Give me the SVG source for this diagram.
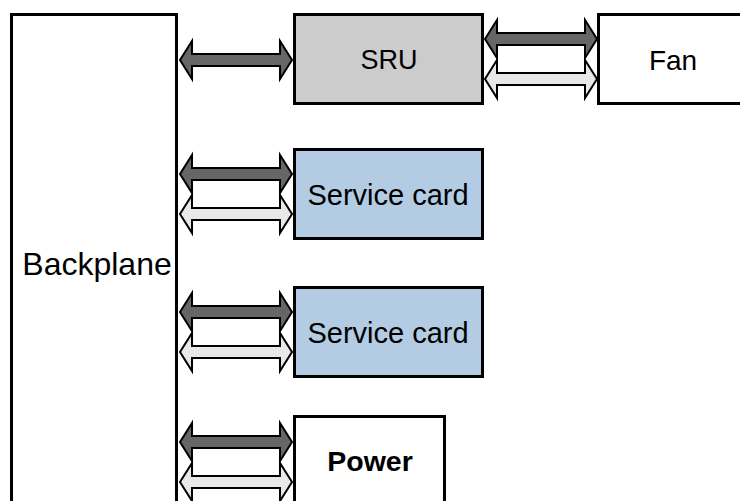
<svg xmlns="http://www.w3.org/2000/svg" xmlns:xlink="http://www.w3.org/1999/xlink" width="740" height="501" viewBox="0 0 740 501">
<style>
.box{stroke:#000;stroke-width:3}
.lbl{font-family:"Liberation Sans",Arial,sans-serif;font-size:28px;fill:#000;text-anchor:middle;dominant-baseline:central}
.dark{fill:#666666;stroke:#000;stroke-width:2;stroke-linejoin:miter}
.light{fill:#e8e8e8;stroke:#000;stroke-width:2;stroke-linejoin:miter}
</style>
<defs>
<path id="darr" d="M0,0 L12,-19 L12,-6 L100,-6 L100,-19 L112,0 L100,19 L100,6 L12,6 L12,19 Z"/>
</defs>
<rect width="740" height="501" fill="#fff"/>
<g id="connectors">
<use xlink:href="#darr" href="#darr" class="dark" x="180" y="60"/>
<use xlink:href="#darr" href="#darr" class="light" x="485" y="79"/>
<use xlink:href="#darr" href="#darr" class="dark" x="485" y="39"/>
<use xlink:href="#darr" href="#darr" class="light" x="180" y="214"/>
<use xlink:href="#darr" href="#darr" class="dark" x="180" y="174"/>
<use xlink:href="#darr" href="#darr" class="light" x="180" y="352"/>
<use xlink:href="#darr" href="#darr" class="dark" x="180" y="312"/>
<use xlink:href="#darr" href="#darr" class="light" x="180" y="482"/>
<use xlink:href="#darr" href="#darr" class="dark" x="180" y="442"/>
</g>
<g id="backplane">
<rect class="box" x="11.5" y="14.5" width="165" height="500" fill="#fff"/>
<text class="lbl" x="97" y="264" style="font-size:32px">Backplane</text>
</g>
<g id="sru">
<rect class="box" x="294.5" y="14.5" width="188" height="89" fill="#cccccc"/>
<text class="lbl" x="389" y="60" style="font-size:27px">SRU</text>
</g>
<g id="fan">
<rect class="box" x="598.5" y="14.5" width="150" height="89" fill="#fff"/>
<text class="lbl" x="673" y="60">Fan</text>
</g>
<g id="service-card-1">
<rect class="box" x="294.5" y="149.5" width="188" height="89" fill="#b3cce4"/>
<text class="lbl" x="388" y="195" style="font-size:29px">Service card</text>
</g>
<g id="service-card-2">
<rect class="box" x="294.5" y="287.5" width="188" height="89" fill="#b3cce4"/>
<text class="lbl" x="388" y="333" style="font-size:29px">Service card</text>
</g>
<g id="power">
<rect class="box" x="294.5" y="416.5" width="150" height="89" fill="#fff"/>
<text class="lbl" x="370" y="461" font-weight="bold" style="font-size:28.5px">Power</text>
</g>
</svg>
